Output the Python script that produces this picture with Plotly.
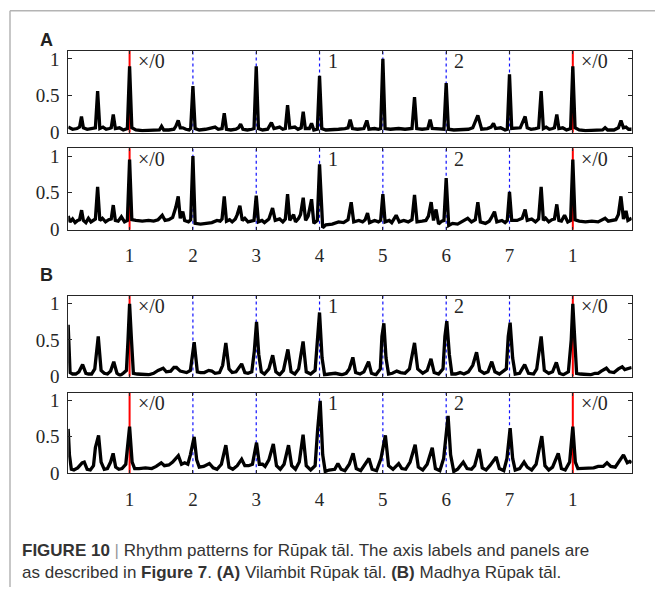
import plotly.graph_objects as go

# Beat grid of Rūpak tāl (7 beats, cycle repeats at the last "1")
beat_ticks = [1, 2, 3, 4, 5, 6, 7, 8]
beat_labels = ["1", "2", "3", "4", "5", "6", "7", "1"]
sam_beats = [1, 8]
other_beats = [2, 3, 4, 5, 6, 7]
vibhag_marks = [(1, "×/0"), (4, "1"), (6, "2"), (8, "×/0")]

# Rhythm pattern curves: (beat position, normalised strength)
vilambit_top = [
    (0.03, 0.07), (0.10, 0.04), (0.17, 0.05), (0.21, 0.07), (0.24, 0.215), (0.27, 0.06),
    (0.33, 0.04), (0.40, 0.05), (0.46, 0.06), (0.495, 0.56), (0.53, 0.05), (0.58, 0.07),
    (0.63, 0.04), (0.68, 0.05), (0.71, 0.06), (0.742, 0.24), (0.775, 0.05), (0.84, 0.06),
    (0.90, 0.03), (0.965, 0.05), (1.0, 0.90), (1.035, 0.06), (1.10, 0.03), (1.20, 0.02),
    (1.30, 0.02), (1.40, 0.03), (1.47, 0.03), (1.505, 0.08), (1.54, 0.03), (1.62, 0.03),
    (1.70, 0.04), (1.73, 0.08), (1.768, 0.16), (1.80, 0.06), (1.84, 0.06), (1.89, 0.04),
    (1.94, 0.03), (1.965, 0.05), (2.0, 0.63), (2.035, 0.05), (2.10, 0.03), (2.20, 0.04),
    (2.30, 0.06), (2.35, 0.07), (2.40, 0.04), (2.46, 0.05), (2.495, 0.26), (2.53, 0.04),
    (2.60, 0.03), (2.68, 0.04), (2.72, 0.06), (2.753, 0.11), (2.79, 0.04), (2.86, 0.03),
    (2.93, 0.04), (2.965, 0.05), (3.0, 0.90), (3.035, 0.05), (3.10, 0.03), (3.18, 0.04),
    (3.24, 0.13), (3.28, 0.05), (3.37, 0.07), (3.42, 0.04), (3.46, 0.05), (3.495, 0.37),
    (3.53, 0.06), (3.61, 0.07), (3.66, 0.04), (3.71, 0.06), (3.742, 0.28), (3.775, 0.05),
    (3.84, 0.05), (3.874, 0.12), (3.91, 0.03), (3.965, 0.04), (4.0, 0.77), (4.035, 0.05),
    (4.10, 0.03), (4.20, 0.03), (4.30, 0.04), (4.40, 0.05), (4.45, 0.06), (4.484, 0.17),
    (4.52, 0.05), (4.60, 0.04), (4.70, 0.05), (4.747, 0.16), (4.78, 0.04), (4.87, 0.05),
    (4.93, 0.04), (4.965, 0.05), (5.0, 1.0), (5.035, 0.05), (5.12, 0.04), (5.25, 0.05),
    (5.35, 0.04), (5.46, 0.05), (5.5, 0.48), (5.535, 0.05), (5.62, 0.04), (5.71, 0.05),
    (5.747, 0.17), (5.78, 0.05), (5.88, 0.04), (5.965, 0.04), (6.0, 0.67), (6.035, 0.04),
    (6.12, 0.03), (6.25, 0.03), (6.35, 0.04), (6.42, 0.06), (6.5, 0.23), (6.56, 0.04),
    (6.65, 0.05), (6.71, 0.07), (6.747, 0.12), (6.78, 0.05), (6.86, 0.06), (6.93, 0.03),
    (6.965, 0.04), (7.0, 0.79), (7.035, 0.05), (7.17, 0.06), (7.247, 0.215), (7.28, 0.06),
    (7.34, 0.04), (7.41, 0.05), (7.46, 0.06), (7.5, 0.56), (7.535, 0.05), (7.58, 0.07),
    (7.63, 0.04), (7.68, 0.05), (7.71, 0.06), (7.747, 0.24), (7.78, 0.05), (7.84, 0.06),
    (7.90, 0.03), (7.965, 0.05), (8.0, 0.90), (8.035, 0.06), (8.10, 0.03), (8.20, 0.02),
    (8.30, 0.02), (8.40, 0.03), (8.47, 0.03), (8.51, 0.06), (8.55, 0.03), (8.65, 0.03),
    (8.72, 0.06), (8.76, 0.16), (8.80, 0.06), (8.84, 0.07), (8.88, 0.04), (8.93, 0.04),
]

vilambit_bottom = [
    (0.03, 0.18), (0.06, 0.10), (0.10, 0.14), (0.14, 0.09), (0.18, 0.12), (0.21, 0.13),
    (0.242, 0.26), (0.27, 0.12), (0.31, 0.09), (0.35, 0.15), (0.39, 0.10), (0.42, 0.12),
    (0.46, 0.14), (0.495, 0.58), (0.53, 0.12), (0.57, 0.15), (0.62, 0.10), (0.67, 0.13),
    (0.71, 0.14), (0.742, 0.33), (0.775, 0.12), (0.82, 0.11), (0.87, 0.17), (0.92, 0.10),
    (0.965, 0.12), (1.0, 0.955), (1.035, 0.13), (1.10, 0.12), (1.20, 0.11), (1.30, 0.12),
    (1.38, 0.11), (1.45, 0.13), (1.516, 0.19), (1.56, 0.12), (1.62, 0.13), (1.68, 0.16),
    (1.73, 0.30), (1.768, 0.45), (1.80, 0.15), (1.84, 0.24), (1.87, 0.12), (1.93, 0.10),
    (1.965, 0.13), (2.0, 1.0), (2.035, 0.08), (2.12, 0.07), (2.22, 0.08), (2.30, 0.09),
    (2.38, 0.12), (2.43, 0.11), (2.46, 0.14), (2.495, 0.45), (2.53, 0.11), (2.58, 0.13),
    (2.62, 0.10), (2.67, 0.14), (2.70, 0.20), (2.742, 0.32), (2.78, 0.12), (2.82, 0.15),
    (2.87, 0.10), (2.93, 0.12), (2.965, 0.12), (3.0, 0.46), (3.035, 0.10), (3.09, 0.12),
    (3.13, 0.09), (3.20, 0.14), (3.258, 0.29), (3.30, 0.12), (3.37, 0.14), (3.42, 0.10),
    (3.46, 0.14), (3.495, 0.48), (3.53, 0.12), (3.59, 0.20), (3.62, 0.10), (3.67, 0.15),
    (3.70, 0.20), (3.742, 0.43), (3.78, 0.12), (3.82, 0.18), (3.874, 0.41), (3.91, 0.08),
    (3.965, 0.12), (4.0, 0.89), (4.05, 0.02), (4.10, 0.06), (4.20, 0.07), (4.30, 0.10),
    (4.38, 0.09), (4.45, 0.13), (4.5, 0.37), (4.54, 0.10), (4.62, 0.12), (4.68, 0.10),
    (4.72, 0.13), (4.758, 0.22), (4.79, 0.09), (4.87, 0.12), (4.93, 0.10), (4.965, 0.12),
    (5.0, 0.48), (5.035, 0.10), (5.10, 0.12), (5.14, 0.09), (5.21, 0.19), (5.26, 0.10),
    (5.33, 0.12), (5.40, 0.10), (5.46, 0.13), (5.5, 0.47), (5.54, 0.10), (5.62, 0.11),
    (5.68, 0.12), (5.72, 0.18), (5.763, 0.37), (5.80, 0.12), (5.84, 0.27), (5.88, 0.07),
    (5.93, 0.11), (5.965, 0.12), (6.0, 0.70), (6.04, 0.05), (6.10, 0.08), (6.18, 0.07),
    (6.25, 0.10), (6.34, 0.15), (6.40, 0.10), (6.46, 0.13), (6.5, 0.37), (6.54, 0.10),
    (6.62, 0.08), (6.68, 0.11), (6.71, 0.15), (6.763, 0.24), (6.80, 0.10), (6.88, 0.12),
    (6.93, 0.09), (6.965, 0.12), (7.0, 0.51), (7.035, 0.12), (7.12, 0.12), (7.20, 0.15),
    (7.247, 0.27), (7.28, 0.12), (7.35, 0.14), (7.41, 0.10), (7.46, 0.14), (7.5, 0.58),
    (7.535, 0.12), (7.57, 0.15), (7.62, 0.10), (7.67, 0.13), (7.71, 0.14), (7.747, 0.34),
    (7.78, 0.12), (7.82, 0.11), (7.87, 0.19), (7.92, 0.10), (7.965, 0.12), (8.0, 0.955),
    (8.035, 0.13), (8.10, 0.11), (8.20, 0.10), (8.30, 0.11), (8.40, 0.10), (8.45, 0.12),
    (8.51, 0.15), (8.56, 0.11), (8.62, 0.12), (8.68, 0.13), (8.72, 0.20), (8.76, 0.45),
    (8.80, 0.14), (8.84, 0.25), (8.87, 0.12), (8.93, 0.15),
]

madhya_top = [
    (0.03, 0.71), (0.045, 0.30), (0.06, 0.05), (0.10, 0.03), (0.15, 0.03), (0.20, 0.06),
    (0.258, 0.16), (0.31, 0.04), (0.35, 0.03), (0.40, 0.03), (0.45, 0.10), (0.505, 0.55),
    (0.55, 0.08), (0.60, 0.04), (0.65, 0.03), (0.70, 0.07), (0.75, 0.20), (0.80, 0.04),
    (0.85, 0.01), (0.90, 0.04), (0.95, 0.08), (0.975, 0.50), (1.0, 1.0), (1.03, 0.50),
    (1.06, 0.04), (1.12, 0.03), (1.20, 0.03), (1.30, 0.02), (1.38, 0.04), (1.45, 0.08),
    (1.53, 0.11), (1.58, 0.06), (1.65, 0.07), (1.70, 0.12), (1.74, 0.12), (1.80, 0.07),
    (1.90, 0.05), (1.96, 0.08), (2.02, 0.47), (2.07, 0.06), (2.12, 0.05), (2.18, 0.05),
    (2.25, 0.08), (2.30, 0.07), (2.35, 0.04), (2.42, 0.05), (2.47, 0.15), (2.52, 0.46),
    (2.57, 0.10), (2.62, 0.05), (2.68, 0.06), (2.77, 0.17), (2.82, 0.05), (2.87, 0.04),
    (2.93, 0.06), (2.97, 0.35), (3.005, 0.75), (3.04, 0.30), (3.08, 0.06), (3.13, 0.03),
    (3.20, 0.10), (3.26, 0.29), (3.31, 0.06), (3.37, 0.02), (3.43, 0.08), (3.50, 0.37),
    (3.55, 0.06), (3.61, 0.03), (3.67, 0.10), (3.74, 0.48), (3.79, 0.06), (3.86, 0.03),
    (3.93, 0.08), (3.96, 0.40), (4.0, 0.88), (4.04, 0.25), (4.08, 0.02), (4.15, 0.03),
    (4.25, 0.04), (4.35, 0.02), (4.42, 0.04), (4.47, 0.10), (4.526, 0.26), (4.57, 0.05),
    (4.64, 0.03), (4.70, 0.06), (4.774, 0.20), (4.82, 0.04), (4.89, 0.02), (4.96, 0.10),
    (4.985, 0.55), (5.016, 0.73), (5.05, 0.25), (5.09, 0.03), (5.15, 0.04), (5.22, 0.07),
    (5.28, 0.05), (5.35, 0.04), (5.42, 0.10), (5.50, 0.46), (5.55, 0.10), (5.63, 0.04),
    (5.70, 0.08), (5.76, 0.24), (5.81, 0.05), (5.88, 0.03), (5.95, 0.10), (5.98, 0.55),
    (6.01, 0.76), (6.05, 0.30), (6.09, 0.03), (6.15, 0.03), (6.22, 0.05), (6.28, 0.03),
    (6.35, 0.06), (6.42, 0.15), (6.48, 0.33), (6.53, 0.08), (6.60, 0.04), (6.66, 0.06),
    (6.72, 0.20), (6.77, 0.06), (6.84, 0.03), (6.95, 0.10), (6.98, 0.55), (7.01, 0.74),
    (7.05, 0.25), (7.09, 0.03), (7.16, 0.04), (7.20, 0.10), (7.24, 0.16), (7.30, 0.04),
    (7.38, 0.03), (7.43, 0.10), (7.50, 0.55), (7.55, 0.08), (7.62, 0.04), (7.68, 0.06),
    (7.74, 0.19), (7.79, 0.04), (7.85, 0.02), (7.93, 0.06), (7.975, 0.50), (8.0, 1.0),
    (8.03, 0.50), (8.06, 0.04), (8.12, 0.03), (8.20, 0.03), (8.28, 0.02), (8.35, 0.04),
    (8.40, 0.04), (8.45, 0.07), (8.53, 0.11), (8.58, 0.06), (8.65, 0.05), (8.72, 0.10),
    (8.78, 0.13), (8.82, 0.09), (8.86, 0.10), (8.93, 0.12),
]

madhya_bottom = [
    (0.03, 0.61), (0.05, 0.25), (0.08, 0.05), (0.12, 0.04), (0.18, 0.07), (0.25, 0.14),
    (0.284, 0.15), (0.33, 0.05), (0.38, 0.04), (0.43, 0.10), (0.46, 0.35), (0.51, 0.52),
    (0.55, 0.15), (0.60, 0.05), (0.65, 0.06), (0.70, 0.15), (0.74, 0.27), (0.78, 0.08),
    (0.83, 0.05), (0.88, 0.06), (0.94, 0.12), (0.97, 0.40), (1.0, 0.64), (1.04, 0.15),
    (1.08, 0.06), (1.15, 0.06), (1.25, 0.07), (1.35, 0.06), (1.42, 0.09), (1.50, 0.14),
    (1.55, 0.10), (1.62, 0.11), (1.68, 0.15), (1.77, 0.24), (1.82, 0.12), (1.87, 0.14),
    (1.92, 0.12), (1.96, 0.25), (2.02, 0.50), (2.06, 0.18), (2.10, 0.08), (2.17, 0.09),
    (2.26, 0.13), (2.32, 0.07), (2.38, 0.05), (2.45, 0.12), (2.52, 0.385), (2.57, 0.08),
    (2.63, 0.05), (2.70, 0.10), (2.77, 0.19), (2.82, 0.10), (2.88, 0.10), (2.94, 0.12),
    (2.97, 0.25), (3.005, 0.42), (3.05, 0.12), (3.10, 0.12), (3.14, 0.09), (3.20, 0.18),
    (3.27, 0.40), (3.32, 0.10), (3.38, 0.05), (3.44, 0.12), (3.51, 0.385), (3.56, 0.10),
    (3.62, 0.05), (3.68, 0.15), (3.74, 0.53), (3.79, 0.10), (3.86, 0.04), (3.93, 0.10),
    (3.97, 0.60), (4.01, 1.0), (4.05, 0.25), (4.09, 0.02), (4.15, 0.04), (4.24, 0.05),
    (4.29, 0.13), (4.34, 0.05), (4.40, 0.03), (4.47, 0.12), (4.53, 0.27), (4.58, 0.06),
    (4.65, 0.03), (4.72, 0.12), (4.78, 0.20), (4.83, 0.05), (4.90, 0.03), (4.97, 0.20),
    (5.04, 0.52), (5.09, 0.10), (5.16, 0.05), (5.25, 0.13), (5.30, 0.06), (5.36, 0.05),
    (5.43, 0.15), (5.51, 0.39), (5.56, 0.08), (5.63, 0.04), (5.70, 0.12), (5.78, 0.35),
    (5.83, 0.06), (5.90, 0.03), (5.96, 0.20), (6.03, 0.79), (6.07, 0.25), (6.12, 0.02),
    (6.18, 0.05), (6.27, 0.15), (6.33, 0.06), (6.40, 0.05), (6.45, 0.10), (6.52, 0.33),
    (6.57, 0.07), (6.63, 0.04), (6.69, 0.10), (6.79, 0.22), (6.84, 0.06), (6.91, 0.03),
    (6.96, 0.20), (7.01, 0.62), (7.05, 0.20), (7.09, 0.04), (7.16, 0.06), (7.23, 0.15),
    (7.28, 0.08), (7.35, 0.04), (7.42, 0.12), (7.51, 0.51), (7.56, 0.10), (7.62, 0.04),
    (7.68, 0.08), (7.77, 0.27), (7.82, 0.06), (7.88, 0.04), (7.95, 0.15), (8.0, 0.64),
    (8.04, 0.15), (8.08, 0.06), (8.15, 0.06), (8.25, 0.06), (8.33, 0.07), (8.40, 0.09),
    (8.48, 0.09), (8.54, 0.14), (8.60, 0.09), (8.67, 0.08), (8.73, 0.15), (8.80, 0.25),
    (8.86, 0.14), (8.90, 0.16), (8.93, 0.14),
]

W, H = 655, 597
X_LEFT, X_RIGHT = 68.3, 631.7
# (curve, top px, bottom px, show beat labels)
panels = [
    (vilambit_top, 50.0, 133.3, False),
    (vilambit_bottom, 149.3, 232.3, True),
    (madhya_top, 300.0, 382.3, False),
    (madhya_bottom, 399.0, 481.0, True),
]

SERIF = "Liberation Serif"
AX_COLOR = "#262626"

fig = go.Figure()
shapes = []
annotations = []

for i, (curve, top, bottom, show_labels) in enumerate(panels, start=1):
    xa = "x" if i == 1 else f"x{i}"
    ya = "y" if i == 1 else f"y{i}"
    fig.add_trace(go.Scatter(
        x=[p[0] for p in curve], y=[p[1] for p in curve],
        mode="lines", line=dict(color="black", width=3.3),
        xaxis=xa, yaxis=ya, showlegend=False, hoverinfo="skip",
    ))
    fig.layout[f"xaxis{'' if i == 1 else i}"] = dict(
        domain=[X_LEFT / W, X_RIGHT / W], anchor=ya, range=[0.032, 8.93],
        tickvals=beat_ticks, ticktext=beat_labels, showticklabels=show_labels,
        ticks="inside", ticklen=3, tickcolor=AX_COLOR, mirror="ticks",
        showline=True, linecolor=AX_COLOR, linewidth=1, showgrid=False, zeroline=False,
        tickfont=dict(family=SERIF, size=19, color=AX_COLOR), ticklabelstandoff=9,
    )
    fig.layout[f"yaxis{'' if i == 1 else i}"] = dict(
        domain=[1 - bottom / H, 1 - top / H], anchor=xa, range=[-0.006, 1.108],
        tickvals=[0, 0.5, 1], ticktext=["0", "0.5", "1"],
        ticks="inside", ticklen=4, tickcolor=AX_COLOR, mirror="ticks",
        showline=True, linecolor=AX_COLOR, linewidth=1, showgrid=False, zeroline=False,
        tickfont=dict(family=SERIF, size=19, color=AX_COLOR), ticklabelstandoff=4,
    )
    for b in sam_beats:
        shapes.append(dict(type="line", xref=xa, yref=f"{ya} domain", x0=b, x1=b, y0=0, y1=1,
                           line=dict(color="red", width=2), layer="below"))
    for b in other_beats:
        shapes.append(dict(type="line", xref=xa, yref=f"{ya} domain", x0=b, x1=b, y0=0, y1=1,
                           line=dict(color="#1010ff", width=1.2, dash="dot"), layer="below"))
    for b, txt in vibhag_marks:
        annotations.append(dict(x=b, y=0.965, xref=xa, yref=ya, text=txt, showarrow=False,
                                xanchor="left", yanchor="middle", xshift=6,
                                font=dict(family=SERIF, size=20, color=AX_COLOR)))

# Panel letters
for letter, ypx in [("A", 39), ("B", 279)]:
    annotations.append(dict(x=38 / W, y=1 - ypx / H, xref="paper", yref="paper", text=f"<b>{letter}</b>",
                            showarrow=False, xanchor="left", yanchor="middle",
                            font=dict(family="Liberation Sans", size=18, color="#222")))

# Caption
caption_lines = [
    "<b>FIGURE 10</b> <span style='color:#999'>|</span> Rhythm patterns for Rūpak tāl. The axis labels and panels are",
    "as described in <b>Figure 7</b>. <b>(A)</b> Vilaṁbit Rūpak tāl. <b>(B)</b> Madhya Rūpak tāl.",
]
for txt, ypx in zip(caption_lines, [560, 582]):
    annotations.append(dict(x=20 / W, y=1 - ypx / H, xref="paper", yref="paper", text=txt,
                            showarrow=False, xanchor="left", yanchor="middle",
                            font=dict(family="Liberation Sans", size=17, color="#333")))

# Page frame (top and left rules)
shapes.append(dict(type="line", xref="paper", yref="paper", x0=10 / W, x1=1, y0=1 - 9 / H, y1=1 - 9 / H,
                   line=dict(color="#b4b4b4", width=1.5)))
shapes.append(dict(type="line", xref="paper", yref="paper", x0=10 / W, x1=10 / W, y0=0, y1=1 - 9 / H,
                   line=dict(color="#b4b4b4", width=1.5)))

fig.update_layout(
    width=W, height=H, margin=dict(l=0, r=0, t=0, b=0),
    paper_bgcolor="white", plot_bgcolor="white",
    shapes=shapes, annotations=annotations, showlegend=False,
)

fig.write_html("out.html")
